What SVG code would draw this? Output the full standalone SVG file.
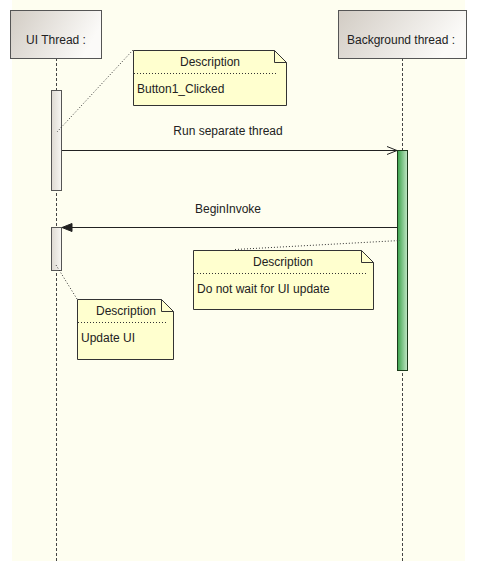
<svg xmlns="http://www.w3.org/2000/svg" width="477" height="571" viewBox="0 0 477 571">
<style>
text{font-family:"Liberation Sans",Arial,sans-serif;font-size:12px;fill:#222}
.life{stroke:#444;stroke-width:1;stroke-dasharray:3,2;fill:none}
.hdr{fill:url(#gh);stroke:#555;stroke-width:1}
.act{fill:url(#ga);stroke:#555;stroke-width:1}
.note{fill:#ffffcf;stroke:#333;stroke-width:1}
.dot{stroke:#333;stroke-width:1;stroke-dasharray:1,2;fill:none}
.msg{stroke:#222;stroke-width:1;fill:none}
</style>
<defs>
<linearGradient id="gh" x1="0" y1="0" x2="1" y2="0.3"><stop offset="0" stop-color="#d2ccc4"/><stop offset="1" stop-color="#fbfaf8"/></linearGradient>
<linearGradient id="ga" x1="0" y1="0" x2="1" y2="0"><stop offset="0" stop-color="#dedad2"/><stop offset="1" stop-color="#f7f6f2"/></linearGradient>
<linearGradient id="gg" x1="0" y1="0" x2="1" y2="0"><stop offset="0" stop-color="#3aa24a"/><stop offset="1" stop-color="#c4e8c8"/></linearGradient>
<marker id="open" markerWidth="12" markerHeight="10" refX="11" refY="5" orient="auto" markerUnits="userSpaceOnUse"><path d="M1,1 L11,5 L1,9" fill="none" stroke="#222" stroke-width="1"/></marker>
<marker id="fill" markerWidth="12" markerHeight="10" refX="11" refY="5" orient="auto" markerUnits="userSpaceOnUse"><path d="M1,1 L11,5 L1,9 Z" fill="#222" stroke="#222" stroke-width="1"/></marker>
</defs>
<rect x="0" y="0" width="477" height="571" fill="#ffffff"/>
<rect x="12" y="0" width="453" height="561" fill="#fefef0"/>
<g id="ui-thread">
<line class="life" x1="56.5" y1="58" x2="56.5" y2="561"/>
<rect class="hdr" x="10.5" y="10.5" width="91" height="48"/>
<text x="56" y="44" text-anchor="middle">UI Thread :</text>
<rect class="act" x="51.5" y="90.5" width="10" height="100"/>
<rect class="act" x="51.5" y="227.5" width="10" height="43"/>
</g>
<g id="background-thread">
<line class="life" x1="402.5" y1="58" x2="402.5" y2="561"/>
<rect class="hdr" x="338.5" y="10.5" width="128" height="48"/>
<text x="401" y="44" text-anchor="middle">Background thread :</text>
<rect x="397.5" y="150.5" width="10" height="220" fill="url(#gg)" stroke="#1a3a1a" stroke-width="1"/>
</g>
<g id="connectors">
<line class="msg" x1="62" y1="150.5" x2="397" y2="150.5" marker-end="url(#open)"/>
<text x="228" y="135" text-anchor="middle">Run separate thread</text>
<line class="msg" x1="397" y1="227.5" x2="62" y2="227.5" marker-end="url(#fill)"/>
<text x="228" y="213" text-anchor="middle">BeginInvoke</text>
<line class="dot" x1="133" y1="50" x2="57" y2="132"/>
<line class="dot" x1="235" y1="249.5" x2="400" y2="240.5"/>
<line class="dot" x1="56" y1="265" x2="77" y2="299"/>
</g>
<g id="note1">
<path class="note" d="M133.5,50.5 H274.5 L286.5,62.5 V105.5 H133.5 Z"/>
<path d="M274.5,50.5 V62.5 H286.5" fill="none" stroke="#333"/>
<line class="dot" x1="134" y1="73.5" x2="278" y2="73.5"/>
<text x="210" y="66" text-anchor="middle">Description</text>
<text x="137" y="93">Button1_Clicked</text>
</g>
<g id="note2">
<path class="note" d="M193.5,250.5 H361.5 L373.5,262.5 V309.5 H193.5 Z"/>
<path d="M361.5,250.5 V262.5 H373.5" fill="none" stroke="#333"/>
<line class="dot" x1="194" y1="273.5" x2="366" y2="273.5"/>
<text x="283" y="266" text-anchor="middle">Description</text>
<text x="197" y="293">Do not wait for UI update</text>
</g>
<g id="note3">
<path class="note" d="M77.5,299.5 H161.5 L173.5,311.5 V359.5 H77.5 Z"/>
<path d="M161.5,299.5 V311.5 H173.5" fill="none" stroke="#333"/>
<line class="dot" x1="78" y1="322.5" x2="166" y2="322.5"/>
<text x="126" y="315" text-anchor="middle">Description</text>
<text x="81" y="342">Update UI</text>
</g>
</svg>
